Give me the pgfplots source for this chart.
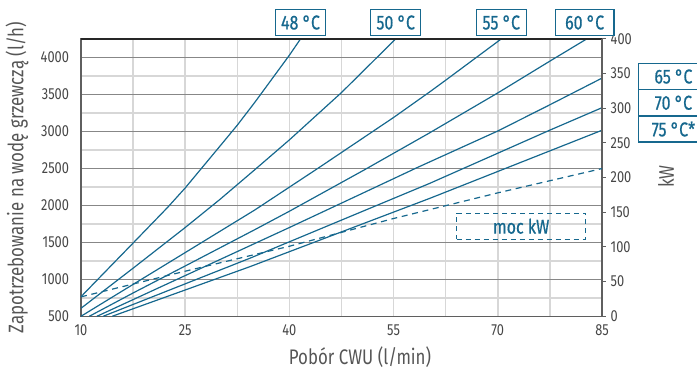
\documentclass[border=0pt]{standalone}
\usepackage{fontspec}
\setmainfont{Fira Sans}[FakeStretch=0.8]
\newfontfamily\medfont{Fira Sans}[FakeStretch=0.8,FakeBold=0.6]
\usepackage{pgfplots}
\pgfplotsset{compat=1.18}
\definecolor{cblue}{RGB}{22,104,142}
\definecolor{tickgray}{RGB}{70,70,70}
\definecolor{labgray}{RGB}{85,85,85}
\definecolor{majgrid}{RGB}{135,135,135}
\definecolor{mingrid}{RGB}{215,215,215}
\definecolor{axgray}{RGB}{95,95,95}
\tikzset{
  tbox/.style={draw=cblue,line width=1.1pt,fill=white,text=cblue,font=\medfont\fontsize{15}{15}\selectfont,minimum height=19.5pt,minimum width=37.5pt,inner sep=1pt},
}
\begin{document}
\begin{tikzpicture}
\pgfplotsset{
  base/.style={width=390.75pt,height=208pt,scale only axis,xmin=10,xmax=85,at={(0,0)},anchor=south west},
  curve/.style={cblue,line width=0.9pt,no marks},
}
% vertical grid
\begin{axis}[base,ymin=500,ymax=4250,
  xtick={10,17.5,25,32.5,40,47.5,55,62.5,70,77.5,85},xticklabels={},ytick=\empty,
  xmajorgrids,major grid style={draw=mingrid,line width=1.1pt},
  axis line style={draw=none},major tick length=0pt]
\end{axis}
% main axis
\begin{axis}[base,ymin=500,ymax=4250,
  xtick={10,25,40,55,70,85},
  ytick={500,1000,1500,2000,2500,3000,3500,4000},
  minor ytick={750,1250,1750,2250,2750,3250,3750},
  ymajorgrids,yminorgrids,
  major grid style={draw=majgrid,line width=0.6pt},
  minor grid style={draw=mingrid,line width=1.1pt},
  axis line style={draw=axgray,line width=1.1pt},
  major tick length=0pt,minor tick length=0pt,
  tick label style={font=\fontsize{12}{14}\selectfont,text=tickgray},
  /pgf/number format/assume math mode=true,
  /pgf/number format/1000 sep={},
  yticklabel style={xshift=-5.5pt},
  xticklabel style={yshift=-2.5pt},
  xlabel={Pobór CWU (l/min)},
  ylabel={Zapotrzebowanie na wodę grzewczą (l/h)},
  label style={font=\fontsize{15.8}{18}\selectfont,text=labgray},
  xlabel style={at={(axis description cs:0.5355,-0.1467)},anchor=center},
  ylabel style={at={(axis description cs:-0.1228,0.5)},anchor=center},
]
\addplot[curve] coordinates {(10,765) (17.5,1490) (22.5,1975) (25,2235) (30,2800) (32.5,3084) (35,3390) (40,4030) (41.6,4250)};
\addplot[curve] coordinates {(10,608) (17.5,1150) (25,1700) (30,2080) (35,2480) (40,2885) (47.5,3525) (55.3,4250)};
\addplot[curve] coordinates {(10,500) (17.5,931) (25,1361) (35,1936) (44.1,2500) (55,3188) (60.2,3534) (62.5,3692) (70.5,4250)};
\addplot[curve] coordinates {(11.2,500) (17.5,815) (25,1180) (35,1670) (40,1920) (50.8,2480) (60,2970) (70,3520) (77.5,3950) (82.8,4250)};
\addplot[curve] coordinates {(12.3,500) (25,1050) (40,1700) (50,2140) (58.5,2515) (70,3005) (77.5,3360) (85,3720)};
\addplot[curve] coordinates {(13.2,500) (34.3,1284) (60.2,2297) (77.5,3017) (85,3320)};
\addplot[curve] coordinates {(14.5,500) (34.3,1170) (60.2,2094) (85,3015)};
\draw[line width=1.4pt,black!85] (rel axis cs:0,1) -- (rel axis cs:1,1);
\coordinate (e48) at (axis cs:41.6,4250);
\coordinate (e50) at (axis cs:55.3,4250);
\coordinate (e55) at (axis cs:70.5,4250);
\coordinate (e60) at (axis cs:82.5,4250);
\end{axis}
% right axis (kW)
\begin{axis}[base,ymin=0,ymax=400,
  axis y line*=right,axis x line=none,
  ytick={0,50,100,150,200,250,300,350,400},
  tick align=outside,major tick length=3pt,
  tick style={draw=axgray,line width=0.8pt},
  axis line style={draw=axgray,line width=1.1pt},
  tick label style={font=\fontsize{12}{14}\selectfont,text=tickgray},
  /pgf/number format/assume math mode=true,
  ylabel={kW},
  label style={font=\fontsize{15.8}{18}\selectfont,text=labgray},
  ylabel style={at={(axis description cs:1.1228,0.504)},anchor=center},
]
\addplot[cblue,line width=0.9pt,no marks,dash pattern=on 4.5pt off 3.5pt] coordinates {(10,28) (25,65) (40,101) (55,141) (70,178) (85,213)};
\end{axis}
% temperature labels
\node[tbox,anchor=south,yshift=2pt] at (e48) {48 °C};
\node[tbox,anchor=south,yshift=2pt] at (e50) {50 °C};
\node[tbox,anchor=south,yshift=2pt] at (e55) {55 °C};
\node[tbox,anchor=south,yshift=2pt,minimum width=44pt] at (e60) {60 °C};
\node[tbox,anchor=north west,minimum width=52pt,minimum height=19.7pt] at (417.75pt,190.2pt) {65 °C};
\node[tbox,anchor=north west,minimum width=52pt,minimum height=19.7pt] at (417.75pt,170.5pt) {70 °C};
\node[tbox,anchor=north west,minimum width=52pt,minimum height=19.7pt] at (417.75pt,150.8pt) {75 °C*};
\node[draw=cblue,line width=1.1pt,dash pattern=on 3.75pt off 3pt,text=cblue,font=\medfont\fontsize{15}{15}\selectfont,minimum width=96.7pt,minimum height=19.5pt,inner sep=1pt] at (330.1pt,67.5pt) {moc kW};
\pgfresetboundingbox
\path[use as bounding box] (-60.75pt,-38.8pt) rectangle (462pt,237.2pt);
\end{tikzpicture}
\end{document}
